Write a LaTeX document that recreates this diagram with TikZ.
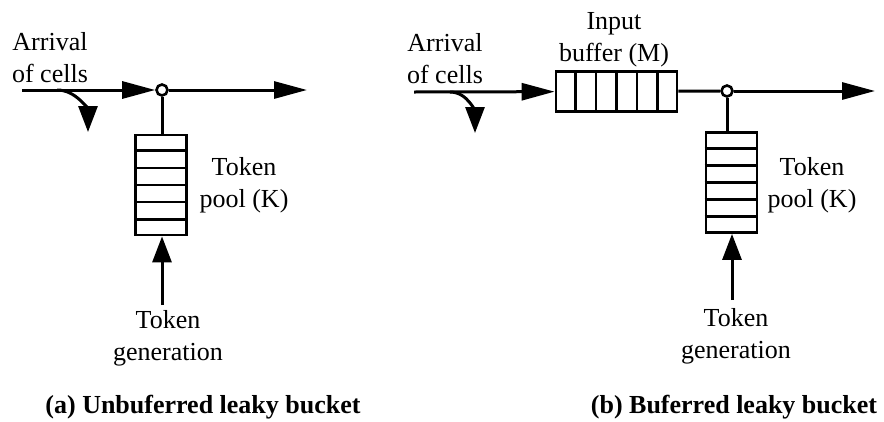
\documentclass[tikz,border=0pt]{standalone}
\usepackage{fontspec}
\setmainfont{Liberation Serif}
\usetikzlibrary{
    arrows.meta,
    calc
}

\begin{document}
\begin{tikzpicture}[
    x=1pt,
    y=-1pt,
    every node/.style={
        font=\fontsize{26pt}{32pt}\selectfont
    },
    wire/.style={
        line width=3pt,
        draw=black
    },
    harrow/.style={
        wire,
        -{Triangle[length=33pt,width=17pt]}
    },
    varrow/.style={
        wire,
        -{Triangle[length=26pt,width=19pt]}
    },
    pool/.style={
        rectangle,
        draw=black,
        line width=2.8pt,
        fill=white,
        minimum width=51pt,
        minimum height=100pt,
        inner sep=0pt
    },
    buffer/.style={
        pool,
        minimum width=121pt,
        minimum height=40pt
    },
    divider/.style={
        line width=2.6pt
    },
    junction/.style={
        circle,
        draw=black,
        line width=2.6pt,
        fill=white,
        minimum size=11pt,
        inner sep=0pt
    },
    label/.style={
        align=center,
        inner sep=0pt,
        anchor=base
    },
    caption/.style={
        font=\fontsize{26pt}{32pt}\selectfont\bfseries,
        inner sep=0pt,
        anchor=base
    }
]

\useasboundingbox (0,0) rectangle (884,421);

% ===========================================================
% (a) Unbuffered leaky bucket
% ===========================================================

\node[label] (aarrtext) at (50,82) {Arrival\\of cells};

\coordinate (ain) at (22,90);
\coordinate (adrop) at (57,90);
\coordinate (adropend) at (88,132);
\coordinate (aout) at (307,90);
\coordinate (agen) at (162,305);

\node[junction] (ajunc) at (162,90) {};
\node[pool] (apool) at (161,185) {};

% Token pool cells
\foreach \k in {1,...,5}
    \draw[divider]
        ($(apool.north west)!\k/6!(apool.south west)$)
        -- ($(apool.north east)!\k/6!(apool.south east)$);

\node[label] (apooltext) at (244,207) {Token\\pool (K)};
\node[label] (agentext) at (168,360) {Token\\generation};

% Cell stream through the junction
\draw[harrow] (ain) -- (ajunc);
\draw[harrow] (ajunc) -- (aout);

% Cells dropped when no token is left
\draw[varrow] (adrop) to[out=0,in=90] (adropend);

% Token supply
\draw[wire] (ajunc) -- (ajunc |- apool.north);
\draw[varrow] (agen) -- (agen |- apool.south);

\node[caption] (acap) at (203,413) {(a) Unbuferred leaky bucket};

% ===========================================================
% (b) Buffered leaky bucket
% ===========================================================

\node[label] (barrtext) at (445,83) {Arrival\\of cells};

\coordinate (bin) at (414,92);
\coordinate (bdrop) at (450,92);
\coordinate (bdropend) at (475,133);
\coordinate (bout) at (875,91);
\coordinate (bgen) at (732,300);

\node[buffer] (bbuf) at (616.5,91.5) {};
\node[junction] (bjunc) at (727,91) {};
\node[pool] (bpool) at (731.5,182.5) {};

% Input buffer places
\foreach \k in {1,...,5}
    \draw[divider]
        ($(bbuf.north west)!\k/6!(bbuf.north east)$)
        -- ($(bbuf.south west)!\k/6!(bbuf.south east)$);

% Token pool cells
\foreach \k in {1,...,5}
    \draw[divider]
        ($(bpool.north west)!\k/6!(bpool.south west)$)
        -- ($(bpool.north east)!\k/6!(bpool.south east)$);

\node[label] (bbuftext) at (614,61) {Input\\buffer (M)};
\node[label] (bpooltext) at (812,207) {Token\\pool (K)};
\node[label] (bgentext) at (736,358) {Token\\generation};

% Cell stream: buffer, then junction
\draw[harrow] (bin) -- (bbuf);
\draw[wire] (bbuf) -- (bjunc);
\draw[harrow] (bjunc) -- (bout);

% Cells dropped on buffer overflow
\draw[varrow] (bdrop) to[out=0,in=90] (bdropend);

% Token supply
\draw[wire] (bjunc) -- (bjunc |- bpool.north);
\draw[varrow] (bgen) -- (bgen |- bpool.south);

\node[caption] (bcap) at (734,413) {(b) Buferred leaky bucket};

\end{tikzpicture}
\end{document}
